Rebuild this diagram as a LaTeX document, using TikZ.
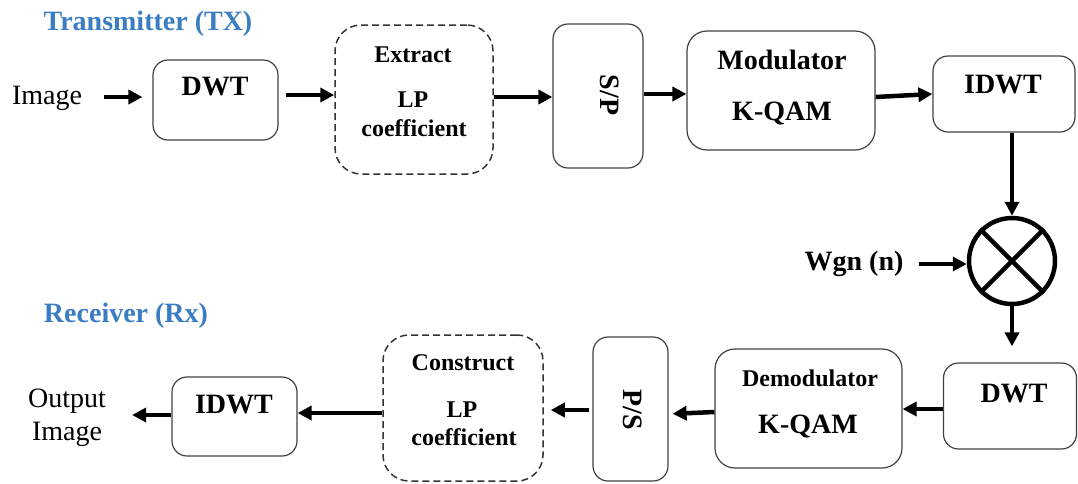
\documentclass[tikz,border=0pt]{standalone}
\usepackage{fontspec}
\setmainfont{Liberation Serif}
\usetikzlibrary{arrows.meta}
\definecolor{hblue}{RGB}{58,125,195}
\begin{document}
\begin{tikzpicture}[x=1pt,y=-1pt,
  blk/.style={draw=black!75, line width=1.2pt, rounded corners=15pt, rectangle, inner sep=0pt},
  dblk/.style={draw=black!80, line width=1.5pt, dash pattern=on 7pt off 4pt, rounded corners=26pt, rectangle, inner sep=0pt},
  big/.style={font=\fontsize{28}{30}\selectfont\bfseries, inner sep=0pt, anchor=base},
  small/.style={font=\fontsize{24}{26}\selectfont\bfseries, inner sep=0pt, anchor=base},
  plain/.style={font=\fontsize{28}{30}\selectfont, inner sep=0pt, anchor=base},
  head/.style={font=\fontsize{28}{30}\selectfont\bfseries, text=hblue, inner sep=0pt, anchor=base},
  arr/.style={line width=4.5pt, -{Triangle[length=14pt,width=14pt]}},
]
\useasboundingbox (0,0) rectangle (1078,483);

% headings
\node[head] (tx) at (148,30) {Transmitter (TX)};
\node[head] (rx) at (126,322) {Receiver (Rx)};

% top row boxes
\node[blk, minimum width=125pt, minimum height=80pt] (dwtA) at (215.5,100) {};
\node[dblk, minimum width=158pt, minimum height=149pt] (ext) at (414,99.5) {};
\node[blk, minimum width=90pt, minimum height=144pt] (sp) at (598,96) {};
\node[blk, rounded corners=20pt, minimum width=188pt, minimum height=119pt] (mod) at (781,90.5) {};
\node[blk, minimum width=142pt, minimum height=76pt] (idwtA) at (1004,94) {};

% mixer
\node[circle, draw, line width=4.5pt, minimum size=86pt, inner sep=0pt] (mix) at (1012,261) {};
\draw[line width=4.5pt] (mix.north east) -- (mix.south west);
\draw[line width=4.5pt] (mix.north west) -- (mix.south east);

% bottom row boxes
\node[blk, minimum width=133pt, minimum height=86pt] (dwtB) at (1010,406) {};
\node[blk, rounded corners=20pt, minimum width=187pt, minimum height=119pt] (demod) at (808.5,408.5) {};
\node[blk, minimum width=75pt, minimum height=144pt] (ps) at (630.5,409) {};
\node[dblk, minimum width=160pt, minimum height=146pt] (con) at (463,408) {};
\node[blk, minimum width=125pt, minimum height=79pt] (idwtB) at (234.5,416.5) {};

% texts
\node[plain] (img) at (47,104) {Image};
\node[big] (tdwtA) at (215,95) {DWT};
\node[small] (text1) at (413,62) {Extract};
\node[small] (tlp1) at (413,107) {LP};
\node[small] (tcoef1) at (414,136) {coefficient};
\node[big, anchor=center, rotate=-90] (tsp) at (610,95) {S/P};
\node[big] (tmod1) at (782,69) {Modulator};
\node[big] (tmod2) at (782,120) {K-QAM};
\node[big] (tidwtA) at (1003,93) {IDWT};
\node[big] (wgn) at (854,270) {Wgn (n)};
\node[big] (tdwtB) at (1014,402) {DWT};
\node[small] (tdem1) at (810,386) {Demodulator};
\node[big] (tdem2) at (808,433) {K-QAM};
\node[big, anchor=center, rotate=-90] (tps) at (633,410) {P/S};
\node[small] (tcon1) at (463,370) {Construct};
\node[small] (tlp2) at (462,417) {LP};
\node[small] (tcoef2) at (464,445) {coefficient};
\node[big] (tidwtB) at (234,413) {IDWT};
\node[plain] (out1) at (67,407) {Output};
\node[plain] (out2) at (67,440) {Image};

% top connectors
\draw[arr, shorten <=22pt, shorten >=10pt] (img.east |- 0,97) -- (dwtA.west |- 0,97);
\draw[arr, shorten <=7pt] (dwtA.east |- 0,95) -- (ext.west |- 0,95);
\draw[arr] (ext.east |- 0,97) -- (sp.west |- 0,97);
\draw[arr] (sp.east |- 0,94) -- (mod.west |- 0,94);
\draw[arr] (mod.east |- 0,97) -- (idwtA.west |- 0,94);
\draw[arr] (mix.north |- idwtA.south) -- (mix.north);
\draw[arr, shorten <=15pt] (wgn.east |- 0,264) -- (mix.west |- 0,264);
\draw[arr, shorten >=16pt] (mix.south) -- (mix.south |- dwtB.north);

% bottom connectors
\draw[arr] (dwtB.west |- 0,409) -- (demod.east |- 0,409);
\draw[arr, shorten >=4pt] (demod.west |- 0,412) -- (ps.east |- 0,414);
\draw[arr, shorten <=3pt, shorten >=7pt] (ps.west |- 0,410) -- (con.east |- 0,410);
\draw[arr] (con.west |- 0,413) -- (idwtB.east |- 0,413);
\draw[arr, shorten >=26pt] (idwtB.west |- 0,415) -- (out1.east |- 0,415);
\end{tikzpicture}
\end{document}
